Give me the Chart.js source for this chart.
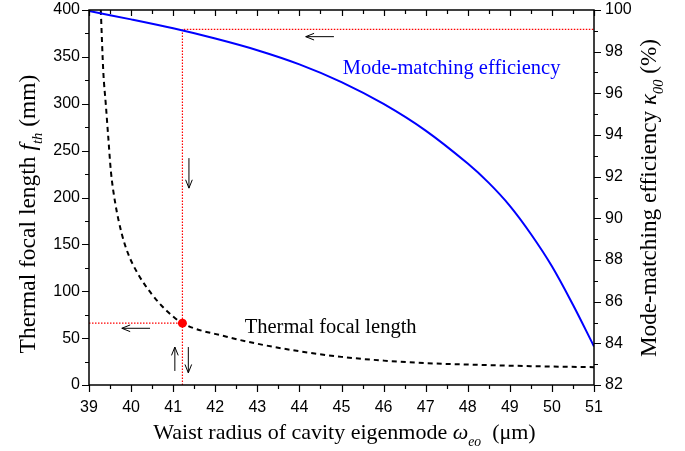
<!DOCTYPE html>
<html>
<head>
<meta charset="utf-8">
<script src="https://cdn.jsdelivr.net/npm/chart.js@4.4.1/dist/chart.umd.min.js"></script>
<style>
  html, body { margin: 0; padding: 0; background: #fff; }
  #wrap { width: 685px; height: 451px; }
</style>
</head>
<body>
<div id="wrap"><canvas id="chart" width="685" height="451"></canvas></div>
<script>
// Mode-matching efficiency (%) vs waist radius (um)
var waistEff = [39, 40, 41, 42, 43, 44, 45, 46, 47, 48, 48.5, 49, 49.5, 50, 50.5, 51];
var efficiency = [99.95, 99.55, 99.12, 98.63, 98.07, 97.39, 96.54, 95.49, 94.21, 92.63, 91.7, 90.6, 89.25, 87.7, 85.85, 83.85];

// Thermal focal length (mm) vs waist radius (um)
var waistFocal = [39.28, 39.34, 39.40, 39.46, 39.52, 39.62, 39.78, 39.93, 40.17, 40.49, 40.85, 41.22, 42.27, 43, 44, 45, 46, 47, 48, 49, 50, 51];
var focal = [400, 334, 299, 263, 228, 195, 161, 140, 118, 97, 79, 66, 51.5, 44, 36, 30, 26, 23.3, 21.8, 20.6, 19.7, 19];

// operating point marked by the red guide lines
var guideWaist = 41.22;
var guideFocal = 66;
var guideEff = 99.07;

// tick labels
var waistTicks = [39, 40, 41, 42, 43, 44, 45, 46, 47, 48, 49, 50, 51];
var focalTicks = [0, 50, 100, 150, 200, 250, 300, 350, 400];
var effTicks = [82, 84, 86, 88, 90, 92, 94, 96, 98, 100];

var serif = '"Liberation Serif", "Times New Roman", serif';
var sans = '"Liberation Sans", Arial, sans-serif';

function pts(xs, ys) {
	return xs.map(function (x, i) { return { x: x, y: ys[i] }; });
}

// text made of plain / italic / subscript pieces, centred on (cx, cy)
function drawRich(ctx, parts, cx, cy, size, angle, color) {
	ctx.save();
	ctx.translate(cx, cy);
	ctx.rotate(angle);
	ctx.fillStyle = color;
	ctx.textBaseline = 'alphabetic';
	var total = 0;
	parts.forEach(function (p) {
		var s = p.sub ? size * 0.62 : size;
		ctx.font = (p.i ? 'italic ' : '') + s + 'px ' + serif;
		p.w = ctx.measureText(p.t).width;
		total += p.w;
	});
	var x = -total / 2;
	parts.forEach(function (p) {
		var s = p.sub ? size * 0.62 : size;
		ctx.font = (p.i ? 'italic ' : '') + s + 'px ' + serif;
		ctx.fillText(p.t, x, size * 0.33 + (p.sub ? size * 0.3 : 0));
		x += p.w;
	});
	ctx.restore();
}

function arrow(ctx, x1, y1, x2, y2) {
	var a = Math.atan2(y2 - y1, x2 - x1);
	ctx.beginPath();
	ctx.moveTo(x1, y1);
	ctx.lineTo(x2, y2);
	ctx.moveTo(x2 - 9 * Math.cos(a - 0.38), y2 - 9 * Math.sin(a - 0.38));
	ctx.lineTo(x2, y2);
	ctx.lineTo(x2 - 9 * Math.cos(a + 0.38), y2 - 9 * Math.sin(a + 0.38));
	ctx.stroke();
}

var decor = {
	id: 'decor',
	afterDatasetsDraw: function (chart) {
		var ctx = chart.ctx;
		var a = chart.chartArea;
		var sx = chart.scales.x, sy = chart.scales.y, sy1 = chart.scales.y1;
		var i, p;

		ctx.save();
		ctx.strokeStyle = '#000';
		ctx.lineWidth = 1.5;
		ctx.strokeRect(a.left, a.top, a.right - a.left, a.bottom - a.top);

		ctx.lineWidth = 1.2;
		ctx.beginPath();
		// bottom + top ticks
		for (i = 39; i <= 51; i += 0.5) {
			p = Math.round(sx.getPixelForValue(i)) + 0.5;
			var major = i % 1 === 0;
			ctx.moveTo(p, a.bottom);
			ctx.lineTo(p, a.bottom + (major ? 7 : 4));
			ctx.moveTo(p, a.top);
			ctx.lineTo(p, a.top + (major ? 6 : 4));
		}
		// left ticks
		for (i = 0; i <= 400; i += 25) {
			p = Math.round(sy.getPixelForValue(i)) + 0.5;
			ctx.moveTo(a.left, p);
			ctx.lineTo(a.left - (i % 50 === 0 ? 7 : 4), p);
		}
		// right ticks
		for (i = 82; i <= 100; i += 1) {
			p = Math.round(sy1.getPixelForValue(i)) + 0.5;
			ctx.moveTo(a.right, p);
			ctx.lineTo(a.right + (i % 2 === 0 ? 7 : 4), p);
		}
		ctx.stroke();

		// arrows
		ctx.lineWidth = 1;
		arrow(ctx, sx.getPixelForValue(40.45), sy.getPixelForValue(60.5), sx.getPixelForValue(39.78), sy.getPixelForValue(60.5));
		arrow(ctx, sx.getPixelForValue(44.82), sy1.getPixelForValue(98.72), sx.getPixelForValue(44.15), sy1.getPixelForValue(98.72));
		arrow(ctx, sx.getPixelForValue(41.375), sy.getPixelForValue(242), sx.getPixelForValue(41.375), sy.getPixelForValue(210));
		arrow(ctx, sx.getPixelForValue(41.04), sy.getPixelForValue(15), sx.getPixelForValue(41.04), sy.getPixelForValue(40.5));
		arrow(ctx, sx.getPixelForValue(41.36), sy.getPixelForValue(40.5), sx.getPixelForValue(41.36), sy.getPixelForValue(13));

		// curve labels
		ctx.textBaseline = 'middle';
		ctx.textAlign = 'left';
		ctx.font = '20.5px ' + serif;
		ctx.fillStyle = '#0000ff';
		ctx.fillText('Mode-matching efficiency', sx.getPixelForValue(45.03), sy1.getPixelForValue(97.2));
		ctx.fillStyle = '#000';
		ctx.fillText('Thermal focal length', sx.getPixelForValue(42.7), sy.getPixelForValue(61));
		ctx.restore();

		// axis titles
		var cx = (a.left + a.right) / 2;
		drawRich(ctx, [
			{ t: 'Waist radius of cavity eigenmode ' },
			{ t: '\u03c9', i: true },
			{ t: 'eo', i: true, sub: true },
			{ t: '  (\u03bcm)' }
		], cx + 3, 432, 22, 0, '#000');
		drawRich(ctx, [
			{ t: 'Thermal focal length ' },
			{ t: 'f', i: true },
			{ t: 'th', i: true, sub: true },
			{ t: ' (mm)' }
		], 27, 214, 23.5, -Math.PI / 2, '#000');
		drawRich(ctx, [
			{ t: 'Mode-matching efficiency ' },
			{ t: '\u03ba', i: true },
			{ t: '00', i: true, sub: true },
			{ t: ' (%)' }
		], 648, 198, 23.2, -Math.PI / 2, '#000');
	}
};

var tickFont = { family: sans, size: 16 };

new Chart(document.getElementById('chart').getContext('2d'), {
	type: 'line',
	data: {
		datasets: [
			{
				label: 'point',
				data: [{ x: guideWaist, y: guideFocal }],
				yAxisID: 'y',
				showLine: false,
				pointRadius: 4.5,
				pointBackgroundColor: '#ff0000',
				pointBorderWidth: 0,
				order: 0
			},
			{
				label: 'Mode-matching efficiency',
				data: pts(waistEff, efficiency),
				yAxisID: 'y1',
				borderColor: '#0000ff',
				borderWidth: 2,
				pointRadius: 0,
				tension: 0.35,
				order: 1
			},
			{
				label: 'Thermal focal length',
				data: pts(waistFocal, focal),
				yAxisID: 'y',
				borderColor: '#000000',
				borderWidth: 2,
				borderDash: [5, 4],
				pointRadius: 0,
				cubicInterpolationMode: 'monotone',
				order: 2
			},
			{
				label: 'guide left',
				data: [{ x: 39, y: guideFocal }, { x: guideWaist, y: guideFocal }],
				yAxisID: 'y',
				borderColor: '#ff0000',
				borderWidth: 1.2,
				borderDash: [1.5, 1.5],
				pointRadius: 0,
				order: 3
			},
			{
				label: 'guide right',
				data: [{ x: guideWaist, y: 82 }, { x: guideWaist, y: guideEff }, { x: 51, y: guideEff }],
				yAxisID: 'y1',
				borderColor: '#ff0000',
				borderWidth: 1.2,
				borderDash: [1.5, 1.5],
				pointRadius: 0,
				tension: 0,
				order: 3
			}
		]
	},
	options: {
		responsive: false,
		animation: false,
		devicePixelRatio: 1,
		layout: { padding: { top: 10, left: 0, right: 0, bottom: 0 } },
		plugins: {
			legend: { display: false },
			tooltip: { enabled: false }
		},
		scales: {
			x: {
				type: 'linear',
				position: 'bottom',
				min: 39,
				max: 51,
				grid: { display: false, drawTicks: false },
				border: { display: false },
				ticks: { font: tickFont, color: '#000', padding: 13, maxRotation: 0 },
				afterBuildTicks: function (s) {
					s.ticks = waistTicks.map(function (v) { return { value: v }; });
				},
				afterFit: function (s) { s.height = 66; s.paddingLeft = 0; s.paddingRight = 0; }
			},
			y: {
				type: 'linear',
				position: 'left',
				min: 0,
				max: 400,
				grid: { display: false, drawTicks: false },
				border: { display: false },
				ticks: { font: tickFont, color: '#000', padding: 9 },
				afterBuildTicks: function (s) {
					s.ticks = focalTicks.map(function (v) { return { value: v }; });
				},
				afterFit: function (s) { s.width = 89; s.paddingTop = 0; s.paddingBottom = 0; }
			},
			y1: {
				type: 'linear',
				position: 'right',
				min: 82,
				max: 100,
				grid: { display: false, drawTicks: false },
				border: { display: false },
				ticks: { font: tickFont, color: '#000', padding: 11 },
				afterBuildTicks: function (s) {
					s.ticks = effTicks.map(function (v) { return { value: v }; });
				},
				afterFit: function (s) { s.width = 91; s.paddingTop = 0; s.paddingBottom = 0; }
			}
		}
	},
	plugins: [decor]
});
</script>
</body>
</html>
